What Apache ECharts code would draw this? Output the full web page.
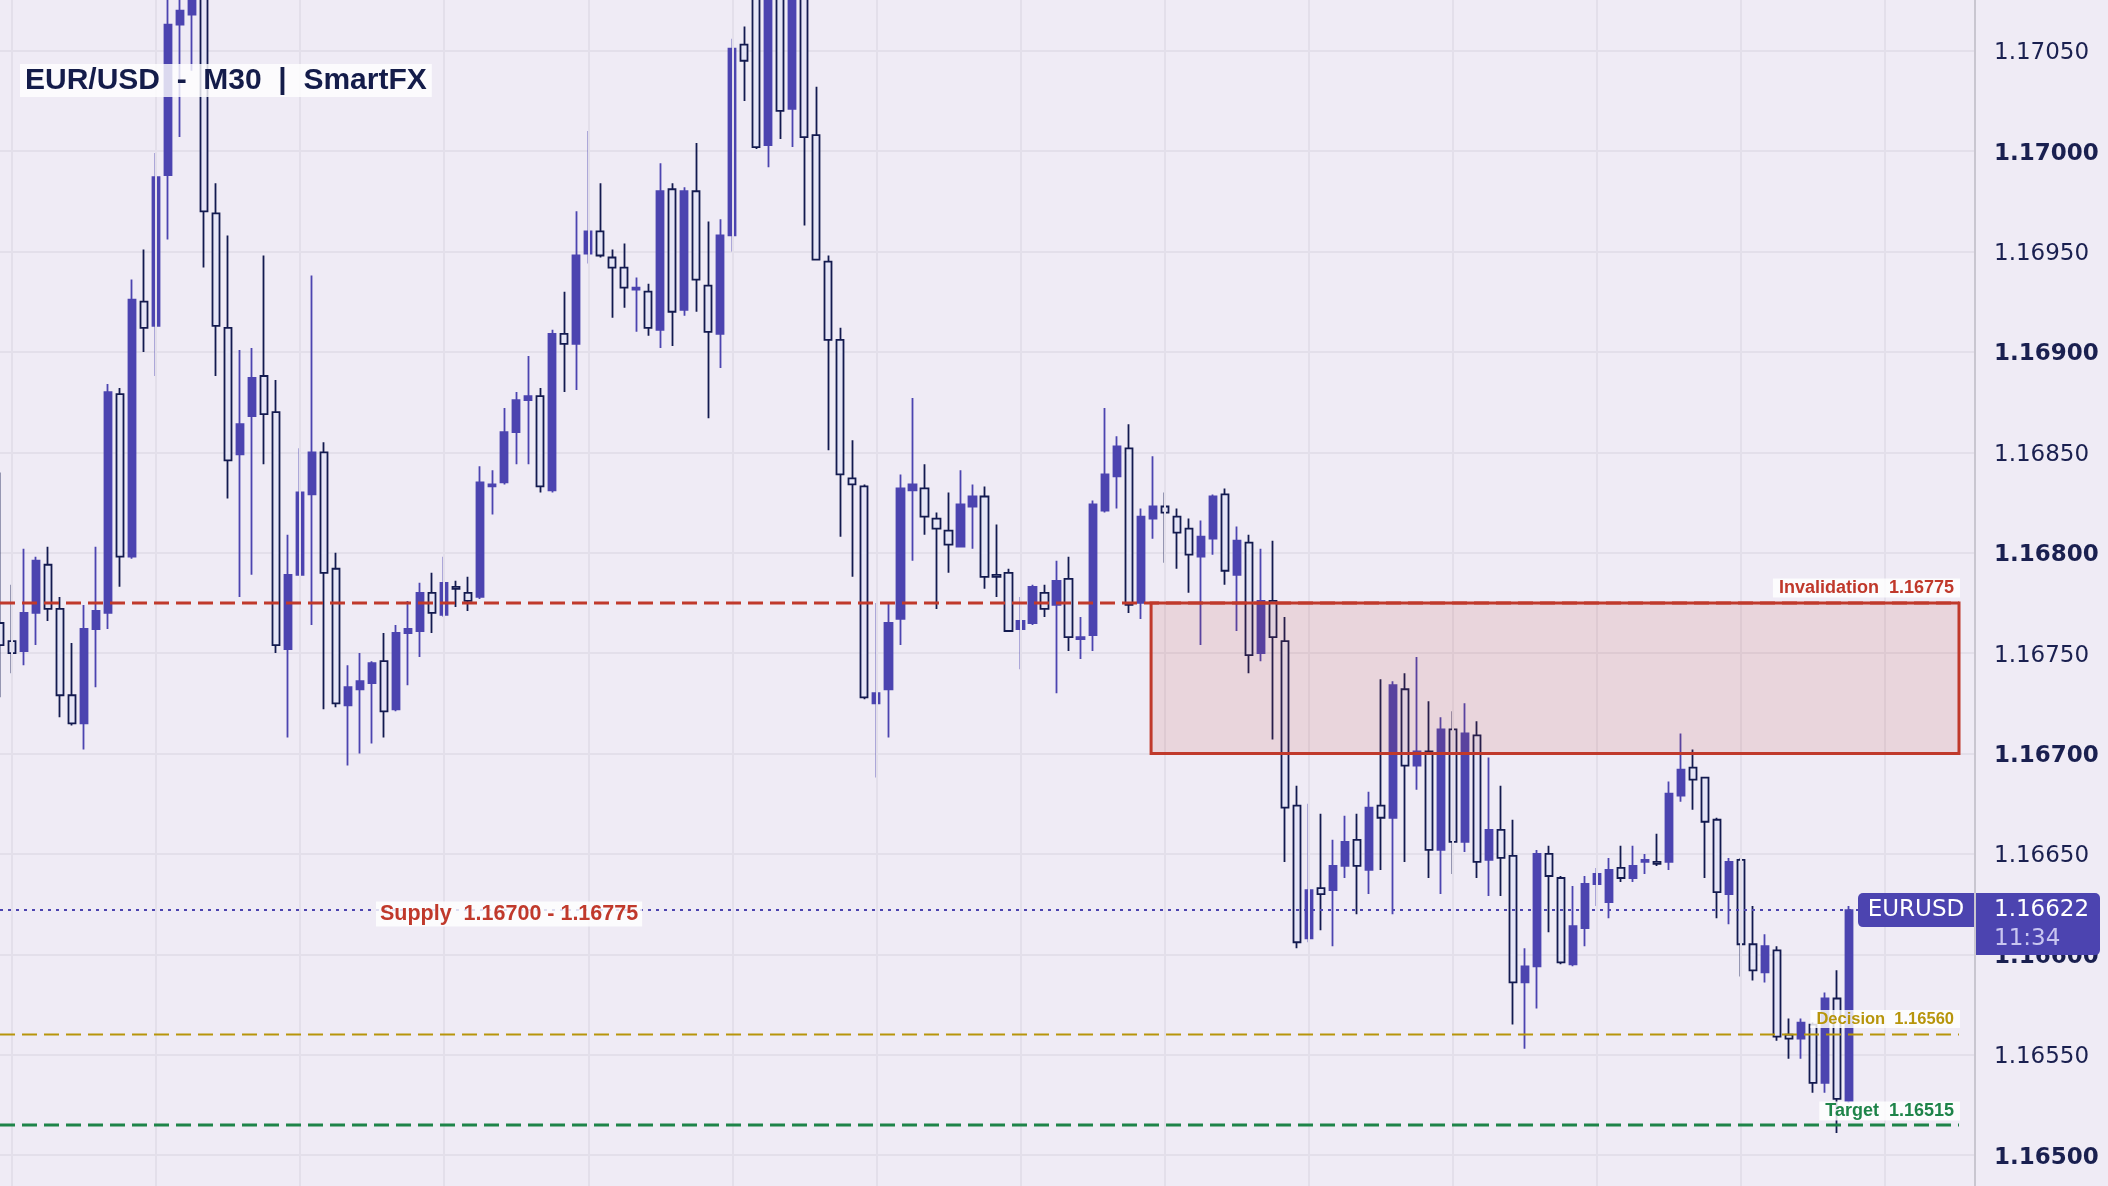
<!DOCTYPE html>
<html>
<head>
<meta charset="utf-8">
<script src="https://cdn.jsdelivr.net/npm/echarts@6/dist/echarts.min.js"></script>
<style>
  html, body { margin: 0; padding: 0; background: #efebf5; }
  #chart { width: 2108px; height: 1186px; }
</style>
</head>
<body>
<div id="chart"></div>
<script>
// ---------------- DATA (EUR/USD, M30) ----------------
const opens = [1.16765,1.16756,1.16751,1.16770,1.16794,1.16772,1.16729,1.16715,1.16762,1.16770,
 1.16879,1.16798,1.16925,1.16913,1.16988,1.17063,1.17068,1.17085,1.16969,1.16912,
 1.16849,1.16868,1.16888,1.16870,1.16752,1.16789,1.16829,1.16850,1.16792,1.16724,
 1.16732,1.16735,1.16746,1.16722,1.16760,1.16761,1.16780,1.16769,1.16783,1.16780,
 1.16778,1.16833,1.16835,1.16860,1.16876,1.16878,1.16831,1.16909,1.16904,1.16949,
 1.16960,1.16947,1.16942,1.16931,1.16930,1.16911,1.16981,1.16921,1.16980,1.16933,
 1.16909,1.16958,1.17053,1.17090,1.17003,1.17095,1.17021,1.17085,1.17008,1.16945,
 1.16906,1.16837,1.16833,1.16725,1.16732,1.16767,1.16831,1.16832,1.16817,1.16811,
 1.16803,1.16823,1.16828,1.16789,1.16790,1.16762,1.16765,1.16780,1.16774,1.16787,
 1.16757,1.16759,1.16821,1.16838,1.16852,1.16775,1.16817,1.16823,1.16818,1.16812,
 1.16798,1.16807,1.16829,1.16789,1.16805,1.16750,1.16776,1.16756,1.16674,1.16608,
 1.16633,1.16632,1.16644,1.16657,1.16642,1.16674,1.16668,1.16732,1.16694,1.16701,
 1.16652,1.16712,1.16656,1.16709,1.16647,1.16662,1.16649,1.16586,1.16594,1.16650,
 1.16638,1.16595,1.16613,1.16635,1.16626,1.16643,1.16638,1.16646,1.16646,1.16646,
 1.16679,1.16693,1.16688,1.16667,1.16630,1.16647,1.16605,1.16591,1.16602,1.16560,
 1.16558,1.16565,1.16536,1.16578,1.16527];

const closes = [1.16754,1.16750,1.16770,1.16796,1.16772,1.16729,1.16715,1.16762,1.16771,1.16880,
 1.16798,1.16926,1.16912,1.16987,1.17063,1.17070,1.17085,1.16970,1.16913,1.16846,
 1.16864,1.16887,1.16869,1.16754,1.16789,1.16830,1.16850,1.16790,1.16725,1.16733,
 1.16736,1.16745,1.16721,1.16760,1.16762,1.16780,1.16770,1.16785,1.16782,1.16776,
 1.16835,1.16834,1.16860,1.16876,1.16878,1.16833,1.16909,1.16904,1.16948,1.16960,
 1.16948,1.16942,1.16932,1.16932,1.16912,1.16980,1.16920,1.16980,1.16936,1.16910,
 1.16958,1.17051,1.17045,1.17002,1.17090,1.17020,1.17085,1.17007,1.16946,1.16906,
 1.16839,1.16834,1.16728,1.16730,1.16765,1.16832,1.16834,1.16818,1.16812,1.16804,
 1.16824,1.16828,1.16788,1.16788,1.16761,1.16766,1.16783,1.16772,1.16786,1.16758,
 1.16758,1.16824,1.16839,1.16853,1.16774,1.16818,1.16823,1.16820,1.16810,1.16799,
 1.16808,1.16828,1.16791,1.16806,1.16749,1.16776,1.16758,1.16673,1.16606,1.16632,
 1.16630,1.16644,1.16656,1.16644,1.16673,1.16668,1.16734,1.16694,1.16701,1.16652,
 1.16712,1.16656,1.16710,1.16646,1.16662,1.16648,1.16586,1.16594,1.16650,1.16639,
 1.16596,1.16614,1.16635,1.16640,1.16642,1.16638,1.16644,1.16647,1.16645,1.16680,
 1.16692,1.16687,1.16666,1.16631,1.16646,1.16605,1.16592,1.16604,1.16559,1.16558,
 1.16566,1.16536,1.16578,1.16528,1.16622];

const lows = [1.16728,1.16740,1.16744,1.16754,1.16766,1.16718,1.16714,1.16702,1.16733,1.16762,
 1.16783,1.16797,1.16900,1.16888,1.16956,1.17007,1.17040,1.16942,1.16888,1.16827,
 1.16778,1.16789,1.16844,1.16750,1.16708,1.16789,1.16764,1.16722,1.16723,1.16694,
 1.16700,1.16705,1.16708,1.16721,1.16734,1.16748,1.16760,1.16768,1.16773,1.16771,
 1.16777,1.16819,1.16834,1.16844,1.16844,1.16830,1.16830,1.16880,1.16881,1.16944,
 1.16947,1.16917,1.16922,1.16910,1.16908,1.16902,1.16903,1.16918,1.16920,1.16867,
 1.16892,1.16950,1.17025,1.17001,1.16992,1.17006,1.17002,1.16963,1.16946,1.16851,
 1.16808,1.16788,1.16727,1.16688,1.16708,1.16754,1.16796,1.16809,1.16772,1.16790,
 1.16803,1.16802,1.16782,1.16778,1.16761,1.16742,1.16764,1.16768,1.16730,1.16751,
 1.16747,1.16751,1.16820,1.16822,1.16770,1.16767,1.16807,1.16795,1.16792,1.16780,
 1.16754,1.16799,1.16784,1.16761,1.16740,1.16746,1.16707,1.16646,1.16603,1.16606,
 1.16612,1.16604,1.16638,1.16620,1.16630,1.16642,1.16620,1.16646,1.16682,1.16638,
 1.16630,1.16640,1.16651,1.16638,1.16629,1.16629,1.16565,1.16553,1.16573,1.16611,
 1.16595,1.16594,1.16604,1.16624,1.16618,1.16636,1.16636,1.16640,1.16644,1.16642,
 1.16676,1.16672,1.16638,1.16618,1.16615,1.16589,1.16587,1.16586,1.16557,1.16548,
 1.16548,1.16531,1.16531,1.16511,1.16526];

const highs = [1.16840,1.16784,1.16802,1.16798,1.16803,1.16778,1.16755,1.16774,1.16803,1.16884,
 1.16882,1.16936,1.16951,1.16999,1.17082,1.17080,1.17092,1.17090,1.16984,1.16958,
 1.16901,1.16902,1.16948,1.16886,1.16809,1.16852,1.16938,1.16855,1.16800,1.16744,
 1.16750,1.16746,1.16760,1.16764,1.16776,1.16785,1.16790,1.16798,1.16786,1.16788,
 1.16843,1.16841,1.16872,1.16880,1.16898,1.16882,1.16911,1.16930,1.16970,1.17010,
 1.16984,1.16951,1.16954,1.16937,1.16934,1.16994,1.16984,1.16982,1.17004,1.16965,
 1.16966,1.17056,1.17062,1.17095,1.17100,1.17100,1.17095,1.17090,1.17032,1.16948,
 1.16912,1.16856,1.16834,1.16775,1.16775,1.16839,1.16877,1.16844,1.16820,1.16830,
 1.16841,1.16834,1.16833,1.16814,1.16792,1.16778,1.16784,1.16784,1.16796,1.16798,
 1.16768,1.16826,1.16872,1.16858,1.16864,1.16822,1.16848,1.16830,1.16822,1.16817,
 1.16816,1.16829,1.16832,1.16813,1.16809,1.16802,1.16806,1.16768,1.16684,1.16675,
 1.16670,1.16657,1.16669,1.16670,1.16681,1.16737,1.16736,1.16740,1.16748,1.16726,
 1.16718,1.16721,1.16725,1.16716,1.16698,1.16684,1.16667,1.16603,1.16652,1.16654,
 1.16639,1.16634,1.16639,1.16643,1.16648,1.16654,1.16654,1.16650,1.16660,1.16686,
 1.16710,1.16702,1.16688,1.16668,1.16648,1.16648,1.16624,1.16610,1.16604,1.16568,
 1.16568,1.16566,1.16581,1.16592,1.16624];

// price axis ticks
const yMin = 1.16450, yMax = 1.17100, yStep = 0.00050;

// annotation levels
const invalidationLevel = 1.16775;
const supplyLow = 1.16700, supplyHigh = 1.16775;
const decisionLevel = 1.16560;
const targetLevel = 1.16515;
const lastPrice = 1.16622;
const countdown = '11:34';
const symbolName = 'EURUSD';
const titleText = 'EUR/USD  -  M30  |  SmartFX';
const zoneStartBar = 96;

// axis slots: bars plus empty space on the right
const slotCount = 165;
const categories = [];
for (let i = 0; i < slotCount; i++) categories.push('bar' + i);
const gridBars = [];
for (let i = 1; i < slotCount; i += 12) gridBars.push('bar' + i);

// ---------------- STYLE ----------------
const C_BG = '#efebf5';
const C_GRID = '#e3dfea';
const C_UP = '#4c44b0';
const C_DOWN_FILL = '#e5e5f6';
const C_DOWN = '#131a4f';
const C_RED = '#c0392b';
const C_GOLD = '#b7950b';
const C_GREEN = '#1e8449';
const C_TEXT = '#1a2050';
const F_AXIS = '"DejaVu Sans", sans-serif';
const F_LBL = '"Liberation Sans", Arial, sans-serif';

const ohlc = opens.map((o, i) => [o, closes[i], lows[i], highs[i]]);

const chart = echarts.init(document.getElementById('chart'), null, { width: 2108, height: 1186 });

const option = {
  backgroundColor: C_BG,
  animation: false,
  grid: { left: -6, right: 133, top: -49.7, bottom: -69.5, containLabel: false, outerBoundsMode: 'none' },
  xAxis: {
    type: 'category', data: categories, boundaryGap: true,
    axisLine: { show: false }, axisTick: { show: false }, axisLabel: { show: false },
    splitLine: { show: false }
  },
  yAxis: {
    type: 'value', position: 'right', min: yMin, max: yMax, interval: yStep,
    axisLine: { show: true, lineStyle: { color: '#c9c6d0', width: 2 } },
    axisTick: { show: false },
    splitLine: { show: true, lineStyle: { color: C_GRID, width: 2 } },
    axisLabel: {
      margin: 19,
      formatter: v => {
        const s = v.toFixed(5);
        return (Math.round(v * 1e5) % 100 === 0) ? '{b|' + s + '}' : '{n|' + s + '}';
      },
      rich: {
        b: { fontFamily: F_AXIS, fontSize: 23, fontWeight: 'bold', color: C_TEXT, padding: [5, 0, 0, 0] },
        n: { fontFamily: F_AXIS, fontSize: 23, fontWeight: 'normal', color: C_TEXT, padding: [5, 0, 0, 0] }
      }
    }
  },
  series: [
    {
      type: 'line', data: [], z: 1, silent: true,
      markLine: {
        silent: true, symbol: 'none', animation: false,
        label: { show: false },
        lineStyle: { color: C_GRID, width: 2, type: 'solid' },
        data: gridBars.map(c => ({ xAxis: c }))
      }
    },
    {
      type: 'candlestick', data: ohlc, barWidth: 7.6, z: 3, silent: true,
      itemStyle: {
        color: C_UP, color0: C_DOWN_FILL,
        borderColor: C_UP, borderColor0: C_DOWN, borderWidth: 1.8
      }
    }
  ]
};
chart.setOption(option);

// ---------------- ANNOTATIONS ----------------
const yPx = v => chart.convertToPixel({ yAxisIndex: 0 }, v);
const xPx = c => chart.convertToPixel({ xAxisIndex: 0 }, c);
const END_X = 1959;

const yInv = yPx(invalidationLevel);
const yLow = yPx(supplyLow);
const yDec = yPx(decisionLevel);
const yTgt = yPx(targetLevel);
const yLast = yPx(lastPrice);
const zoneX = xPx(categories[zoneStartBar]) - 1.5;

function hLine(y, x2, color, width, dash) {
  return { type: 'line', z: 21, silent: true,
    shape: { x1: 0, y1: y, x2: x2, y2: y },
    style: { stroke: color, lineWidth: width, lineDash: dash } };
}
function tag(text, color, y, size) {
  return { type: 'text', z: 30, silent: true,
    style: { text: text, x: END_X + 1, y: y, align: 'right', verticalAlign: 'middle',
      fill: color, font: 'bold ' + size + 'px ' + F_LBL,
      backgroundColor: 'rgba(255,255,255,0.82)', padding: [1, 6, 0, 6] } };
}

chart.setOption({
  graphic: [
    { type: 'rect', z: 20, silent: true,
      shape: { x: zoneX, y: yInv, width: END_X - zoneX, height: yLow - yInv },
      style: { fill: 'rgba(192,57,43,0.12)', stroke: C_RED, lineWidth: 3 } },
    hLine(yInv, END_X, C_RED, 3, [15, 7]),
    hLine(yDec, END_X, C_GOLD, 2, [15, 7]),
    hLine(yTgt, END_X, C_GREEN, 3, [15, 7]),
    hLine(yLast, 1858, C_UP, 2, [3, 5]),
    tag('Invalidation  ' + invalidationLevel.toFixed(5), C_RED, yInv - 15, 18),
    tag('Decision  ' + decisionLevel.toFixed(5), C_GOLD, yDec - 15.5, 16.5),
    tag('Target  ' + targetLevel.toFixed(5), C_GREEN, yTgt - 14, 18),
    { type: 'text', z: 30, silent: true,
      style: { text: 'Supply  ' + supplyLow.toFixed(5) + ' - ' + supplyHigh.toFixed(5),
        x: 376, y: yLast + 4, align: 'left', verticalAlign: 'middle',
        fill: C_RED, font: 'bold 21.5px ' + F_LBL,
        backgroundColor: 'rgba(255,255,255,0.82)', padding: [2, 4, 1, 4] } },
    { type: 'text', z: 30, silent: true,
      style: { text: titleText, x: 20, y: 80.5, align: 'left', verticalAlign: 'middle',
        fill: '#141c4a', font: 'bold 30px ' + F_LBL,
        backgroundColor: 'rgba(255,255,255,0.8)', padding: [2, 5, 1, 5] } },
    // symbol tag
    { type: 'rect', z: 30, silent: true,
      shape: { x: 1858, y: yLast - 17, width: 116, height: 34, r: [5, 0, 0, 5] },
      style: { fill: C_UP } },
    { type: 'text', z: 31, silent: true,
      style: { text: symbolName, x: 1916, y: yLast, align: 'center', verticalAlign: 'middle',
        fill: '#ffffff', font: '23px ' + F_AXIS } },
    // price box on axis
    { type: 'rect', z: 30, silent: true,
      shape: { x: 1976, y: yLast - 17, width: 124, height: 62, r: [0, 5, 5, 0] },
      style: { fill: C_UP } },
    { type: 'text', z: 31, silent: true,
      style: { text: lastPrice.toFixed(5), x: 1994, y: yLast, align: 'left', verticalAlign: 'middle',
        fill: '#ffffff', font: '23px ' + F_AXIS } },
    { type: 'text', z: 31, silent: true,
      style: { text: countdown, x: 1994, y: yLast + 28.5, align: 'left', verticalAlign: 'middle',
        fill: '#c9c6f0', font: '23px ' + F_AXIS } }
  ]
});
</script>
</body>
</html>
